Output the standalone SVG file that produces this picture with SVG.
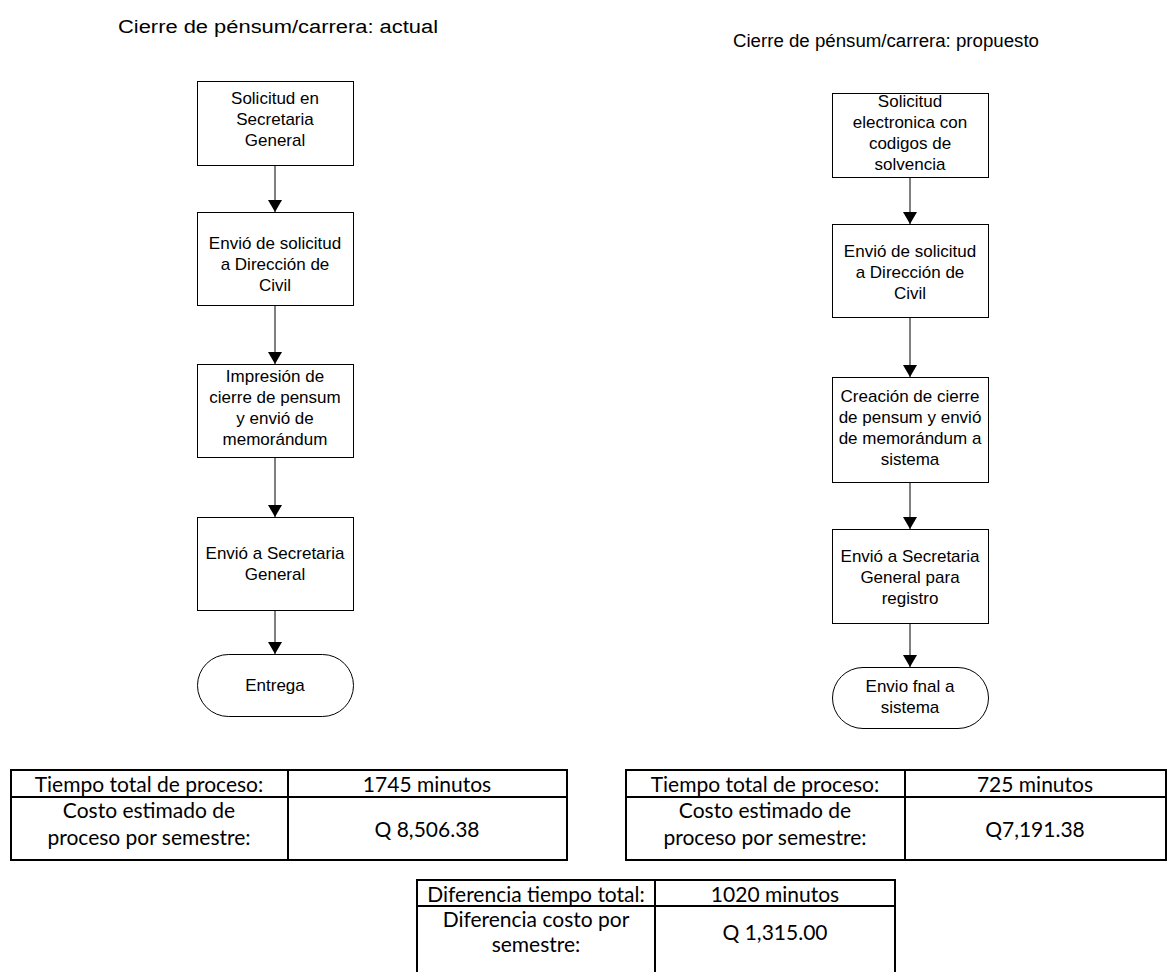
<svg xmlns="http://www.w3.org/2000/svg" width="1168" height="972" viewBox="0 0 1168 972">
  <style>
    .box { fill: #ffffff; stroke: #000000; stroke-width: 1; }
    .lbl { font-family: "Liberation Sans", Arial, sans-serif; font-size: 17px; fill: #000000; text-anchor: middle; }
    .ttl { font-family: "Liberation Sans", Arial, sans-serif; font-size: 18px; fill: #000000; }
    .edge { stroke: #000000; stroke-width: 1; fill: none; marker-end: url(#arrow); }
    .grid { stroke: #000000; stroke-width: 2; fill: none; }
    .cell { font-family: Lato, "Open Sans", sans-serif; font-size: 21px; fill: #000000; text-anchor: middle; }
  </style>
  <defs>
    <marker id="arrow" viewBox="0 0 12 14" refX="12" refY="7" markerWidth="12" markerHeight="14" markerUnits="userSpaceOnUse" orient="auto">
      <path d="M0,0 L12,7 L0,14 Z" fill="#000000"/>
    </marker>
  </defs>

  <rect width="1168" height="972" fill="#ffffff"/>

  <!-- headings -->
  <text class="ttl" x="118" y="33" textLength="320" lengthAdjust="spacingAndGlyphs">Cierre de pénsum/carrera: actual</text>
  <text class="ttl" x="733" y="47" textLength="306" lengthAdjust="spacingAndGlyphs">Cierre de pénsum/carrera: propuesto</text>

  <!-- connectors -->
  <g id="connectors">
    <line class="edge" x1="275" y1="165" x2="275" y2="212"/>
    <line class="edge" x1="275" y1="305" x2="275" y2="364"/>
    <line class="edge" x1="275" y1="457" x2="275" y2="517"/>
    <line class="edge" x1="275" y1="610" x2="275" y2="654"/>
    <line class="edge" x1="910" y1="177" x2="910" y2="224"/>
    <line class="edge" x1="910" y1="317" x2="910" y2="377"/>
    <line class="edge" x1="910" y1="482" x2="910" y2="529"/>
    <line class="edge" x1="910" y1="623" x2="910" y2="667"/>
  </g>

  <!-- current process -->
  <g id="a1">
    <rect class="box" x="197.5" y="81.5" width="156" height="84"/>
    <text class="lbl"><tspan x="275" y="104">Solicitud en</tspan><tspan x="275" y="125">Secretaria</tspan><tspan x="275" y="146">General</tspan></text>
  </g>
  <g id="a2">
    <rect class="box" x="197.5" y="212.5" width="156" height="93"/>
    <text class="lbl"><tspan x="275" y="249">Envió de solicitud</tspan><tspan x="275" y="270">a Dirección de</tspan><tspan x="275" y="291">Civil</tspan></text>
  </g>
  <g id="a3">
    <rect class="box" x="197.5" y="364.5" width="156" height="93"/>
    <text class="lbl"><tspan x="275" y="382">Impresión de</tspan><tspan x="275" y="403">cierre de pensum</tspan><tspan x="275" y="424">y envió de</tspan><tspan x="275" y="445">memorándum</tspan></text>
  </g>
  <g id="a4">
    <rect class="box" x="197.5" y="517.5" width="156" height="93"/>
    <text class="lbl"><tspan x="275" y="559">Envió a Secretaria</tspan><tspan x="275" y="580">General</tspan></text>
  </g>
  <g id="a5">
    <rect class="box" x="197.5" y="654.5" width="156" height="62" rx="31" ry="31"/>
    <text class="lbl" x="275" y="691">Entrega</text>
  </g>

  <!-- proposed process -->
  <g id="b1">
    <rect class="box" x="832.5" y="93.5" width="156" height="84"/>
    <text class="lbl"><tspan x="910" y="107">Solicitud</tspan><tspan x="910" y="128">electronica con</tspan><tspan x="910" y="149">codigos de</tspan><tspan x="910" y="170">solvencia</tspan></text>
  </g>
  <g id="b2">
    <rect class="box" x="832.5" y="224.5" width="156" height="93"/>
    <text class="lbl"><tspan x="910" y="257">Envió de solicitud</tspan><tspan x="910" y="278">a Dirección de</tspan><tspan x="910" y="299">Civil</tspan></text>
  </g>
  <g id="b3">
    <rect class="box" x="832.5" y="377.5" width="156" height="105"/>
    <text class="lbl"><tspan x="910" y="402">Creación de cierre</tspan><tspan x="910" y="423">de pensum y envió</tspan><tspan x="910" y="444">de memorándum a</tspan><tspan x="910" y="465">sistema</tspan></text>
  </g>
  <g id="b4">
    <rect class="box" x="832.5" y="529.5" width="156" height="94"/>
    <text class="lbl"><tspan x="910" y="562">Envió a Secretaria</tspan><tspan x="910" y="583">General para</tspan><tspan x="910" y="604">registro</tspan></text>
  </g>
  <g id="b5">
    <rect class="box" x="832.5" y="667.5" width="156" height="61" rx="30.5" ry="30.5"/>
    <text class="lbl"><tspan x="910" y="692">Envio fnal a</tspan><tspan x="910" y="713">sistema</tspan></text>
  </g>

  <!-- summary: current -->
  <g id="table-actual">
    <rect class="grid" x="11" y="770" width="556" height="90"/>
    <line class="grid" x1="11" y1="797" x2="567" y2="797"/>
    <line class="grid" x1="288" y1="770" x2="288" y2="860"/>
    <text class="cell" x="149" y="792">Tiempo total de proceso:</text>
    <text class="cell" x="427" y="792">1745 minutos</text>
    <text class="cell" x="149" y="818">Costo estimado de</text>
    <text class="cell" x="149" y="845">proceso por semestre:</text>
    <text class="cell" x="427" y="837">Q 8,506.38</text>
  </g>

  <!-- summary: proposed -->
  <g id="table-propuesto">
    <rect class="grid" x="626" y="770" width="540" height="90"/>
    <line class="grid" x1="626" y1="797" x2="1166" y2="797"/>
    <line class="grid" x1="905" y1="770" x2="905" y2="860"/>
    <text class="cell" x="765" y="792">Tiempo total de proceso:</text>
    <text class="cell" x="1035" y="792">725 minutos</text>
    <text class="cell" x="765" y="818">Costo estimado de</text>
    <text class="cell" x="765" y="845">proceso por semestre:</text>
    <text class="cell" x="1035" y="837">Q7,191.38</text>
  </g>

  <!-- summary: difference -->
  <g id="table-diferencia">
    <path class="grid" d="M417,975 V880 H895 V975 M417,906 H895 M655,880 V975"/>
    <text class="cell" x="536" y="902">Diferencia tiempo total:</text>
    <text class="cell" x="775" y="902">1020 minutos</text>
    <text class="cell" x="536" y="927">Diferencia costo por</text>
    <text class="cell" x="536" y="952">semestre:</text>
    <text class="cell" x="775" y="940">Q 1,315.00</text>
  </g>
</svg>
